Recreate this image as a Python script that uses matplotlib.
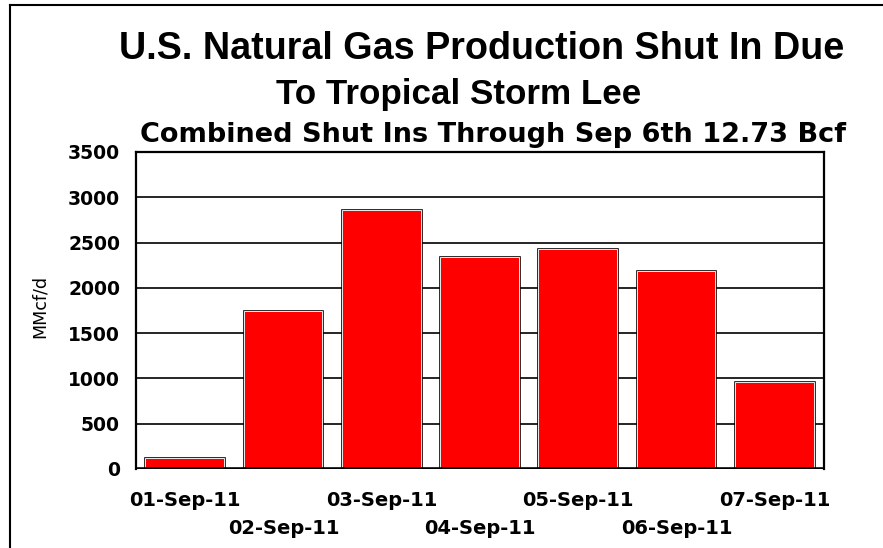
import matplotlib
matplotlib.use("Agg")
import matplotlib.pyplot as plt
import matplotlib.patheffects as pe
from matplotlib.lines import Line2D

# data (MMcf/d shut in per day)
dates = ['01-Sep-11', '02-Sep-11', '03-Sep-11', '04-Sep-11',
         '05-Sep-11', '06-Sep-11', '07-Sep-11']
shut_in = [115, 1730, 2850, 2325, 2415, 2170, 955]
y_ticks = [0, 500, 1000, 1500, 2000, 2500, 3000, 3500]

title_1 = 'U.S. Natural Gas Production Shut In Due'
title_2 = 'To Tropical Storm Lee'
title_3 = 'Combined Shut Ins Through Sep 6th 12.73 Bcf'

W, H = 883, 548
fig = plt.figure(figsize=(W / 100, H / 100), dpi=100)
fig.patch.set_facecolor('white')

# plot area in pixels: left 136, right 824, top 152, bottom 469
ax = fig.add_axes([136 / W, 1 - 469 / H, (824 - 136) / W, (469 - 152) / H])

x = list(range(len(dates)))
bars = ax.bar(x, shut_in, width=0.79, color='#FF0000', edgecolor='none', zorder=3)
for b in bars:
    # black outer edge, thin white line just outside the red fill
    b.set_path_effects([pe.Stroke(linewidth=2.6, foreground='black'),
                        pe.Stroke(linewidth=1.3, foreground='white'),
                        pe.Normal()])

ax.set_xlim(-0.5, len(dates) - 0.5)
ax.set_ylim(0, 3500)
ax.set_yticks(y_ticks)
ax.yaxis.grid(True, color='black', linewidth=1.2, zorder=0)
ax.set_axisbelow(True)

# thick base line with grey drop shadow
ax.axhline(0, color='black', linewidth=2.6, zorder=5,
           path_effects=[pe.SimpleLineShadow(offset=(1, -1.8), shadow_color='#808080', alpha=1),
                         pe.Normal()])

for side in ['left', 'right', 'top']:
    ax.spines[side].set_linewidth(1.6)
ax.spines['bottom'].set_visible(False)

ax.tick_params(axis='both', length=0)
ax.tick_params(axis='y', pad=11.5)
ax.set_yticklabels([str(v) for v in y_ticks], fontsize=13.5, fontweight='bold',
                   family='DejaVu Sans')

# staggered date labels: every second one on a lower row
ax.set_xticks(x)
ax.set_xticklabels(dates, fontsize=14, fontweight='bold', family='DejaVu Sans')
for i, tick in enumerate(ax.xaxis.get_major_ticks()):
    tick.set_pad(15.5 if i % 2 == 0 else 36)

ax.set_ylabel('MMcf/d', fontsize=12.6, family='DejaVu Sans')
ax.yaxis.set_label_coords((40 - 136) / 688, (469 - 306) / 317)
ax.yaxis.label.set_va('center')

fig.text(481.5 / W, 1 - 59 / H, title_1, ha='center', va='baseline',
         fontsize=27.2, fontweight='bold', family=['Liberation Sans', 'DejaVu Sans'])
fig.text(458.5 / W, 1 - 104 / H, title_2, ha='center', va='baseline',
         fontsize=25.2, fontweight='bold', family=['Liberation Sans', 'DejaVu Sans'])
fig.text(492.5 / W, 1 - 142 / H, title_3, ha='center', va='baseline',
         fontsize=19.5, fontweight='bold', family='DejaVu Sans')

# outer frame: left and top edges only
fig.add_artist(Line2D([10 / W, 10 / W], [0, 1 - 5 / H], color='black', linewidth=1.5))
fig.add_artist(Line2D([10 / W, 1], [1 - 5 / H, 1 - 5 / H], color='black', linewidth=1.5))

fig.savefig('out.png', dpi=100)
